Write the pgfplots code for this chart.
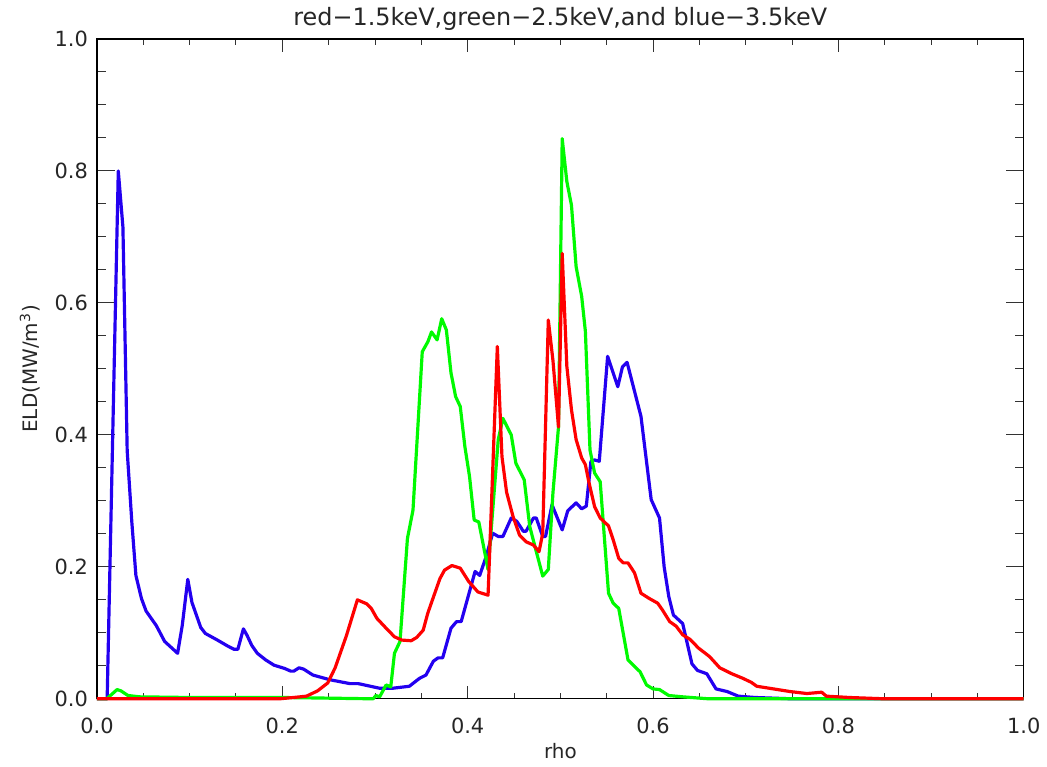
\documentclass[border=0pt]{standalone}
\usepackage{fontspec}
\setmainfont{DejaVu Sans}
\usepackage{pgfplots}
\pgfplotsset{compat=1.18}
\definecolor{idlblue}{RGB}{35,0,240}
\definecolor{idlgreen}{RGB}{0,250,0}
\definecolor{idlred}{RGB}{255,0,0}
\begin{document}
\begin{tikzpicture}
\begin{axis}[
  name=ax, at={(0,0)}, anchor=south west,
  scale only axis, width=463.5bp, height=330bp,
  xmin=0, xmax=1, ymin=0, ymax=1,
  xtick={0,0.2,0.4,0.6,0.8,1}, ytick={0,0.2,0.4,0.6,0.8,1},
  minor tick num=3,
  tick align=inside,
  axis line style={black, line width=0.6bp},
  every tick/.style={black!80, line width=0.5bp},
  major tick length=7bp, minor tick length=3.5bp,
  xtick style={/pgfplots/major tick length=6.5bp, /pgfplots/minor tick length=3bp},
  ytick style={/pgfplots/major tick length=9bp, /pgfplots/minor tick length=4.5bp},
  tick label style={font=\fontsize{10.5}{12}\selectfont, text=black!85},
  xticklabel style={anchor=north, yshift=-6bp},
  yticklabel style={anchor=east, xshift=-1bp},
  /pgf/number format/.cd, fixed, fixed zerofill, precision=1, assume math mode=true,
  /pgfplots/.cd,
  every axis title shift=0pt,
  title={red−1.5keV,green−2.5keV,and blue−3.5keV},
  title style={at={(axis description cs:0.5,1)}, anchor=base, yshift=6.5bp,
    font=\fontsize{12}{14}\selectfont, text=black!85},
  xlabel={rho},
  xlabel style={at={(axis description cs:0.5,0)}, anchor=base, yshift=-30bp,
    font=\fontsize{10}{12}\selectfont, text=black!85},
  ylabel={ELD(MW/m\textsuperscript{3})},
  ylabel style={at={(axis description cs:-0.0723,0.5)}, anchor=center,
    font=\fontsize{10}{12}\selectfont, text=black!85},
  clip=false,
]
\addplot[idlblue, line width=1.6pt, line join=round] coordinates {
(0.000,0) (0.011,0) (0.023,0.80) (0.028,0.715) (0.0326,0.376) (0.0376,0.268)
(0.042,0.187) (0.048,0.152) (0.053,0.133) (0.064,0.111) (0.073,0.087) (0.087,0.069)
(0.092,0.111) (0.098,0.181) (0.1025,0.146) (0.112,0.108) (0.117,0.099) (0.130,0.089)
(0.141,0.080) (0.148,0.075) (0.152,0.075) (0.158,0.106) (0.162,0.096) (0.167,0.081)
(0.173,0.069) (0.182,0.059) (0.191,0.051) (0.2025,0.046) (0.209,0.042) (0.2125,0.042)
(0.218,0.047) (0.223,0.045) (0.233,0.036) (0.251,0.029) (0.273,0.023) (0.282,0.023)
(0.305,0.016) (0.319,0.016) (0.337,0.019) (0.348,0.031) (0.355,0.036) (0.363,0.057)
(0.368,0.062) (0.373,0.062) (0.382,0.107) (0.388,0.117) (0.393,0.117) (0.408,0.193)
(0.413,0.187) (0.420,0.216) (0.427,0.251) (0.433,0.246) (0.438,0.246) (0.447,0.274)
(0.453,0.269) (0.460,0.254) (0.463,0.254) (0.471,0.274) (0.474,0.274) (0.481,0.246)
(0.484,0.246) (0.491,0.294) (0.502,0.256) (0.508,0.285) (0.517,0.297) (0.523,0.288)
(0.528,0.292) (0.533,0.360) (0.537,0.362) (0.542,0.360) (0.551,0.519) (0.562,0.473)
(0.567,0.503) (0.572,0.510) (0.587,0.428) (0.598,0.302) (0.607,0.274) (0.612,0.200)
(0.617,0.155) (0.622,0.127) (0.632,0.114) (0.642,0.053) (0.648,0.043) (0.658,0.038)
(0.668,0.015) (0.680,0.011) (0.692,0.004) (0.710,0.002) (0.750,0) (1.0,0)
};
\addplot[idlgreen, line width=1.6pt, line join=round] coordinates {
(0.0,0) (0.0105,0) (0.0217,0.014) (0.026,0.012) (0.0335,0.005) (0.046,0.003)
(0.10,0.002) (0.20,0.002) (0.25,0.001) (0.298,0) (0.301,0.005) (0.305,0.003)
(0.312,0.021) (0.317,0.018) (0.321,0.069) (0.327,0.087) (0.335,0.243) (0.341,0.286)
(0.351,0.526) (0.357,0.541) (0.361,0.556) (0.367,0.544) (0.372,0.576) (0.377,0.559)
(0.382,0.494) (0.387,0.458) (0.392,0.443) (0.397,0.382) (0.402,0.337) (0.407,0.271)
(0.412,0.268) (0.422,0.196) (0.433,0.393) (0.438,0.425) (0.447,0.400) (0.452,0.357)
(0.461,0.332) (0.467,0.261) (0.475,0.218) (0.481,0.186) (0.487,0.196) (0.492,0.312)
(0.498,0.412) (0.502,0.849) (0.507,0.784) (0.512,0.748) (0.517,0.655) (0.523,0.610)
(0.527,0.557) (0.532,0.377) (0.537,0.342) (0.543,0.329) (0.552,0.160) (0.557,0.145)
(0.563,0.137) (0.573,0.059) (0.580,0.049) (0.586,0.041) (0.593,0.021) (0.600,0.015)
(0.607,0.014) (0.617,0.005) (0.632,0.003) (0.660,0) (1.0,0)
};
\addplot[idlred, line width=1.6pt, line join=round] coordinates {
(0.0,0) (0.197,0) (0.212,0.002) (0.226,0.004) (0.238,0.012) (0.249,0.024)
(0.257,0.047) (0.269,0.095) (0.281,0.150) (0.291,0.144) (0.296,0.137) (0.302,0.122)
(0.312,0.107) (0.321,0.094) (0.329,0.089) (0.339,0.088) (0.345,0.093) (0.352,0.104)
(0.357,0.130) (0.370,0.182) (0.375,0.195) (0.383,0.202) (0.392,0.198) (0.401,0.178)
(0.411,0.162) (0.422,0.157) (0.432,0.534) (0.437,0.367) (0.442,0.313) (0.449,0.276)
(0.456,0.248) (0.463,0.238) (0.471,0.233) (0.477,0.223) (0.481,0.251) (0.487,0.574)
(0.492,0.513) (0.498,0.412) (0.502,0.675) (0.507,0.504) (0.512,0.438) (0.517,0.393)
(0.523,0.365) (0.527,0.355) (0.531,0.327) (0.537,0.291) (0.543,0.274) (0.552,0.262)
(0.557,0.241) (0.563,0.213) (0.568,0.206) (0.573,0.206) (0.580,0.191) (0.587,0.160)
(0.596,0.152) (0.605,0.145) (0.610,0.135) (0.618,0.117) (0.625,0.110) (0.632,0.097)
(0.640,0.090) (0.649,0.077) (0.661,0.064) (0.672,0.047) (0.685,0.038) (0.697,0.031)
(0.706,0.025) (0.712,0.019) (0.730,0.015) (0.748,0.011) (0.766,0.008) (0.782,0.010)
(0.787,0.004) (0.812,0.002) (0.850,0) (1.0,0)
};
\end{axis}
\path (-48.5bp,-34bp) rectangle (475bp,349.5bp);
\end{tikzpicture}
\end{document}
